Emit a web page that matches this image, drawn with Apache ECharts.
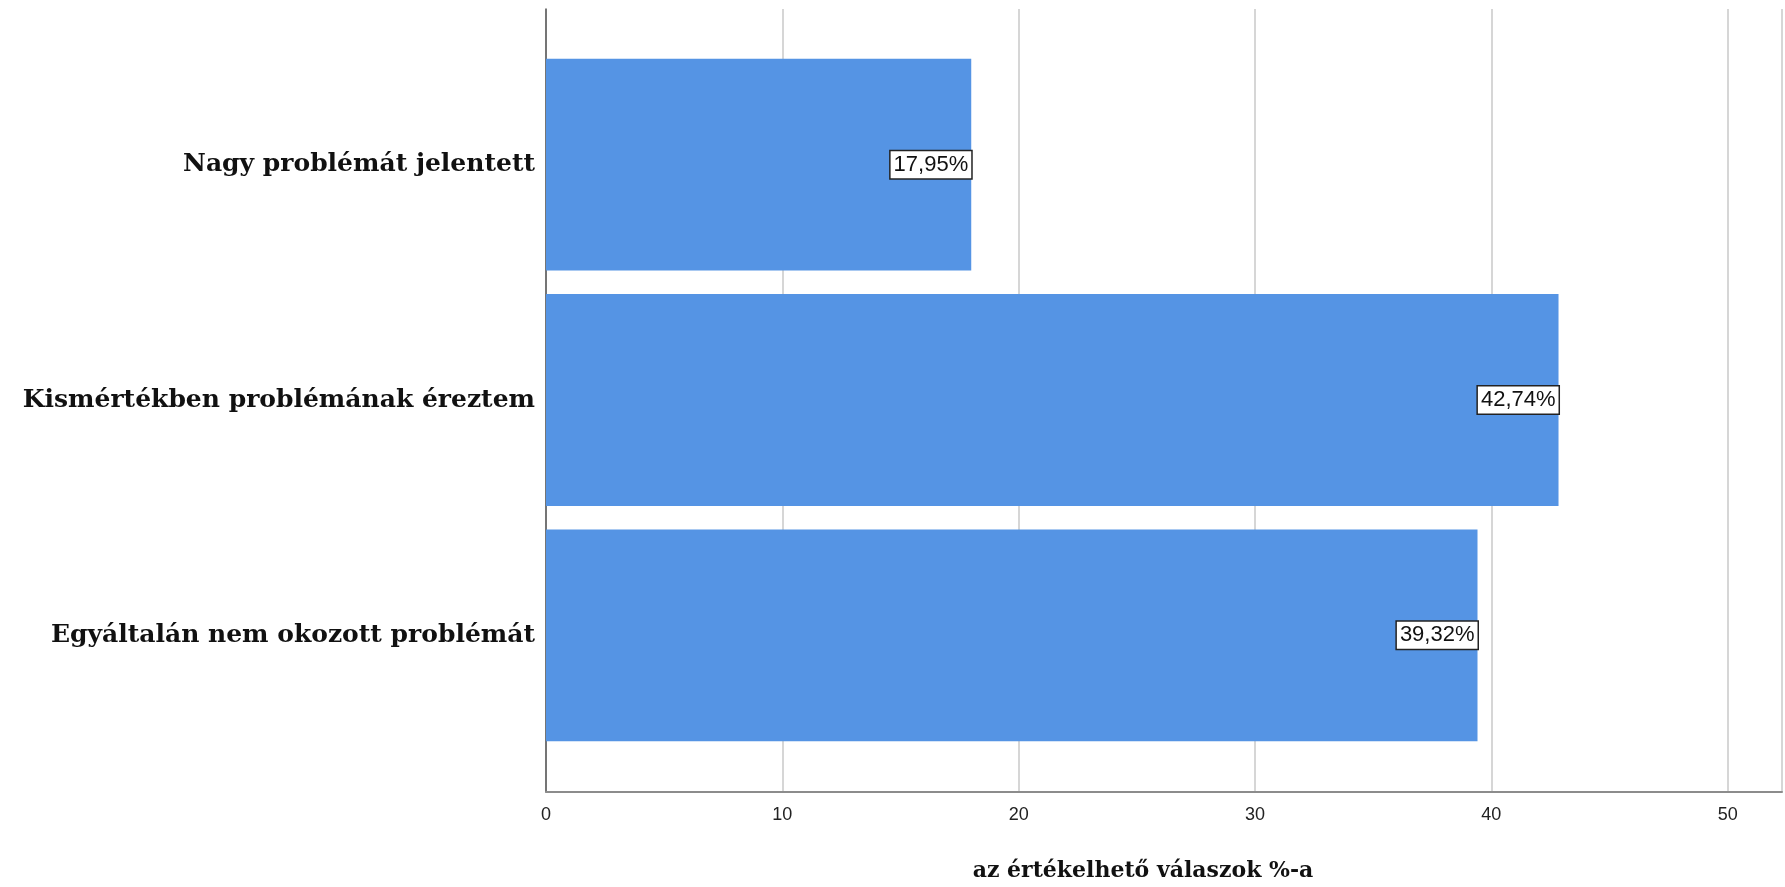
<!DOCTYPE html>
<html>
<head>
<meta charset="utf-8">
<script src="https://cdn.jsdelivr.net/npm/echarts@6/dist/echarts.min.js"></script>
<style>html,body{margin:0;padding:0;background:#fff}#c{width:1785px;height:887px}</style>
</head>
<body>
<div id="c"></div>
<script>
const categories = ['Nagy problémát jelentett', 'Kismértékben problémának éreztem', 'Egyáltalán nem okozott problémát'];
const values = [17.95, 42.74, 39.32];
const xTicks = [0, 10, 20, 30, 40, 50];
const xTitle = 'az értékelhető válaszok %-a';

const chart = echarts.init(document.getElementById('c'), null, {renderer: 'canvas'});
const xMin = 0, xMax = 52.3;
const serif = '"DejaVu Serif", "Liberation Serif", serif';
chart.setOption({
  animation: false,
  backgroundColor: '#ffffff',
  title: {
    text: xTitle,
    left: 1138, top: 855,
    textAlign: 'center',
    textStyle: {fontFamily: serif, fontWeight: 'bold', fontSize: 22, color: '#111'}
  },
  grid: [
    {left: 546, right: 0, top: 9, bottom: 95},
    {left: 546, right: 0, top: 47, bottom: 134}
  ],
  xAxis: [
    {
      gridIndex: 0, type: 'value', min: xMin, max: xMax, interval: 10,
      axisLine: {show: true, lineStyle: {color: '#8c8c8c', width: 2}},
      axisTick: {show: false},
      splitLine: {show: true, lineStyle: {color: '#c9c9c9', width: 1.5}},
      axisLabel: {
        margin: 14, fontSize: 18, color: '#222', fontFamily: '"Liberation Sans", Arial, sans-serif',
        formatter: v => xTicks.includes(v) ? String(v) : ''
      }
    },
    {gridIndex: 1, type: 'value', min: xMin, max: xMax, show: false}
  ],
  yAxis: [
    {
      gridIndex: 0, type: 'value', min: 0, max: 1,
      axisLine: {show: true, lineStyle: {color: '#555', width: 1.5}},
      axisTick: {show: false}, axisLabel: {show: false}, splitLine: {show: false}
    },
    {
      gridIndex: 1, type: 'category', data: categories, inverse: true,
      axisLine: {show: false}, axisTick: {show: false},
      axisLabel: {margin: 11, fontFamily: serif, fontWeight: 'bold', fontSize: 25, color: '#111'}
    }
  ],
  series: [{
    type: 'bar', xAxisIndex: 1, yAxisIndex: 1,
    data: values, barCategoryGap: '10%',
    itemStyle: {color: '#5594e4'},
    label: {
      show: true, position: 'insideRight', distance: 0,
      formatter: p => p.value.toFixed(2).replace('.', ',') + '%',
      fontFamily: '"Liberation Sans", Arial, sans-serif', fontSize: 22, lineHeight: 22, color: '#111',
      backgroundColor: '#fff', borderColor: '#222', borderWidth: 1.5,
      padding: [3, 3, 2, 3]
    }
  }]
});
</script>
</body>
</html>
